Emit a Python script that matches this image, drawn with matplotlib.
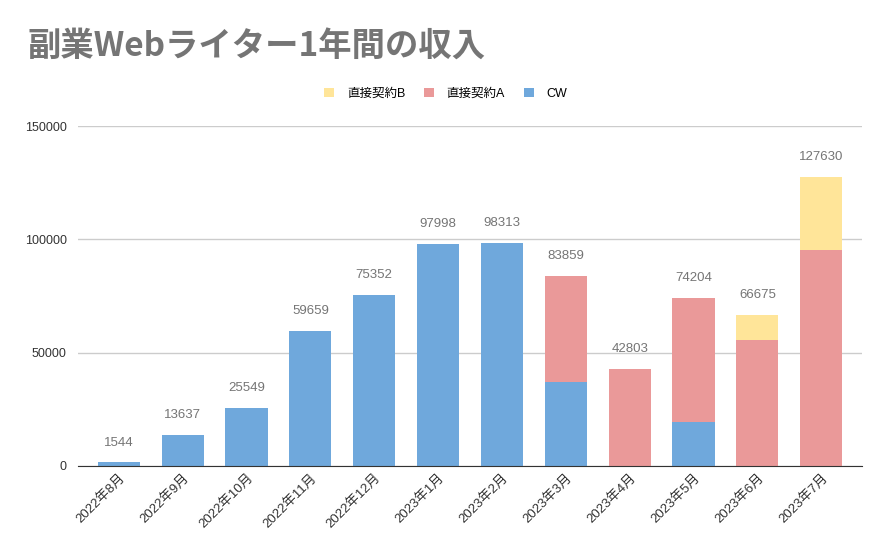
import matplotlib.pyplot as plt
import numpy as np

plt.rcParams['font.family'] = ['Liberation Sans', 'Noto Sans CJK JP', 'DejaVu Sans']

# Data
months = ['2022年8月', '2022年9月', '2022年10月', '2022年11月', '2022年12月', '2023年1月',
          '2023年2月', '2023年3月', '2023年4月', '2023年5月', '2023年6月', '2023年7月']
cw = [1544, 13637, 25549, 59659, 75352, 97998, 98313, 37000, 0, 19500, 0, 0]
contract_a = [0, 0, 0, 0, 0, 0, 0, 46859, 42803, 54704, 55600, 95300]
contract_b = [0, 0, 0, 0, 0, 0, 0, 0, 0, 0, 11075, 32330]
totals = [1544, 13637, 25549, 59659, 75352, 97998, 98313, 83859, 42803, 74204, 66675, 127630]

c_cw = '#6fa8dc'
c_a = '#ea9999'
c_b = '#ffe599'

fig = plt.figure(figsize=(8.91, 5.52), dpi=100)
ax = fig.add_axes([0.0875, 0.1558, 0.88, 0.6159])

x = np.arange(len(months))
w = 0.66
cw = np.array(cw)
contract_a = np.array(contract_a)
contract_b = np.array(contract_b)

ax.bar(x, cw, w, color=c_cw, label='CW', zorder=3)
ax.bar(x, contract_a, w, bottom=cw, color=c_a, label='直接契約A', zorder=3)
ax.bar(x, contract_b, w, bottom=cw + contract_a, color=c_b, label='直接契約B', zorder=3)

# total labels above each bar
for xi, t in zip(x, totals):
    ax.annotate(str(t), (xi, t), xytext=(0, 10), textcoords='offset points',
                ha='center', va='bottom', fontsize=9.5, color='#757575')

ax.set_xlim(-0.64, len(months) - 0.36)
ax.set_ylim(0, 150000)
ax.set_yticks([0, 50000, 100000, 150000])
ax.set_yticklabels(['0', '50000', '100000', '150000'])
ax.grid(axis='y', color='#cccccc', linewidth=1, zorder=0)
ax.tick_params(axis='y', length=0, labelsize=9, labelcolor='#333333', pad=8)
ax.tick_params(axis='x', length=0, labelsize=9.5, labelcolor='#333333', pad=4)
ax.set_xticks(x)
ax.set_xticklabels(months, rotation=45, ha='right', rotation_mode='anchor')
for s in ['top', 'right', 'left']:
    ax.spines[s].set_visible(False)
ax.spines['bottom'].set_color('#333333')
ax.spines['bottom'].set_zorder(4)

handles, labels = ax.get_legend_handles_labels()
fig.legend(handles[::-1], labels[::-1], loc='center', bbox_to_anchor=(0.5, 0.83),
           ncol=3, frameon=False, fontsize=9, handlelength=0.8, handleheight=0.8,
           columnspacing=1.5, handletextpad=1.0)

fig.text(0.031, 0.915, '副業Webライター1年間の収入', fontsize=24, fontweight='bold',
         color='#757575', ha='left', va='center',
         family=['Noto Sans CJK JP', 'DejaVu Sans'])

fig.savefig('out.png', dpi=100)
